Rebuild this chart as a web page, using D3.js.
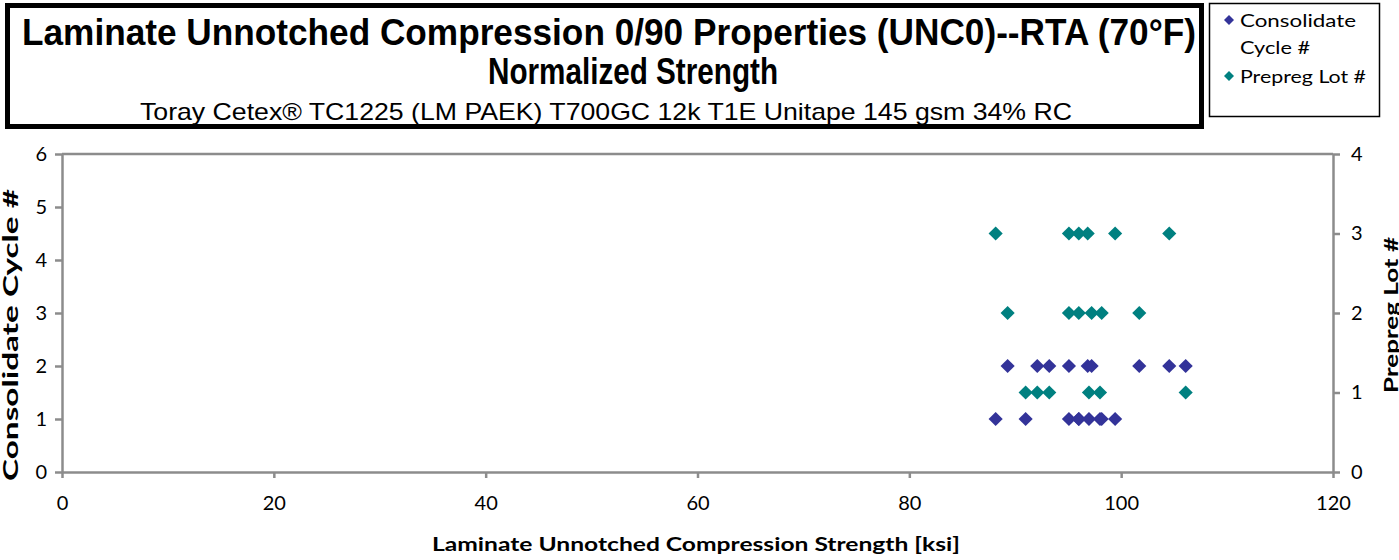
<!DOCTYPE html>
<html>
<head>
<meta charset="utf-8">
<script src="https://cdn.jsdelivr.net/npm/d3@7"></script>
<style>
html,body{margin:0;padding:0;background:#fff;}
svg{display:block;}
</style>
</head>
<body>
<svg id="chart" width="1399" height="560"></svg>
<script>
// ---- data ----
const cycleStrength = [88.15, 90.98, 95.07, 96.0, 96.0, 96.96, 98.0, 98.16, 99.43,
                       89.28, 92.08, 93.21, 95.07, 96.84, 97.21, 101.71, 104.54, 106.09];
const cycleValues   = [1, 1, 1, 1, 1, 1, 1, 1, 1,
                       2, 2, 2, 2, 2, 2, 2, 2, 2];
const lotStrength   = [90.98, 92.08, 93.21, 96.96, 98.0, 106.09,
                       89.28, 95.07, 96.0, 97.21, 98.16, 101.71,
                       88.15, 95.07, 96.0, 96.84, 99.43, 104.54];
const lotValues     = [1, 1, 1, 1, 1, 1,
                       2, 2, 2, 2, 2, 2,
                       3, 3, 3, 3, 3, 3];
const xTicks = [0, 20, 40, 60, 80, 100, 120];
const yLeftTicks = [0, 1, 2, 3, 4, 5, 6];
const yRightTicks = [0, 1, 2, 3, 4];
const titleLines = ["Laminate Unnotched Compression 0/90 Properties (UNC0)--RTA (70°F)", "Normalized Strength"];
const subtitle = "Toray  Cetex® TC1225  (LM PAEK) T700GC  12k  T1E  Unitape  145  gsm  34%  RC";
const legendLabels = [["Consolidate", "Cycle #"], ["Prepreg Lot #"]];
const xTitle = "Laminate Unnotched  Compression  Strength [ksi]";
const yLeftTitle = "Consolidate  Cycle #";
const yRightTitle = "Prepreg Lot #";
const colors = {cycle: "#333399", lot: "#008080"};

// ---- layout ----
const svg = d3.select("#chart");
const plot = {left: 62, right: 1333, top: 154, bottom: 472};
const axisColor = "#8c8c8c";
const tickFont = "Lato, 'Open Sans', sans-serif";

const x = d3.scaleLinear().domain([0, 120]).range([plot.left, plot.right]);
const yL = d3.scaleLinear().domain([0, 6]).range([plot.bottom, plot.top]);
const yR = d3.scaleLinear().domain([0, 4]).range([plot.bottom, plot.top]);

// plot border (top line)
svg.append("line").attr("x1", plot.left).attr("x2", plot.right)
  .attr("y1", plot.top).attr("y2", plot.top)
  .attr("stroke", axisColor).attr("stroke-width", 2.5);

function styleAxis(g) {
  g.select(".domain").attr("stroke", axisColor).attr("stroke-width", 2.5);
  g.selectAll(".tick line").attr("stroke", axisColor).attr("stroke-width", 2.5);
  g.selectAll(".tick text").attr("fill", "#000").attr("font-family", tickFont).attr("font-size", 20);
}
const fmt = d3.format("d");

const gx = svg.append("g").attr("transform", `translate(0,${plot.bottom})`)
  .call(d3.axisBottom(x).tickValues(xTicks).tickFormat(fmt).tickSize(6).tickSizeOuter(0).tickPadding(18));
styleAxis(gx);

const gl = svg.append("g").attr("transform", `translate(${plot.left},0)`)
  .call(d3.axisLeft(yL).tickValues(yLeftTicks).tickFormat(fmt).tickSize(7).tickSizeOuter(0).tickPadding(8));
styleAxis(gl);

const gr = svg.append("g").attr("transform", `translate(${plot.right},0)`)
  .call(d3.axisRight(yR).tickValues(yRightTicks).tickFormat(fmt).tickSize(7).tickSizeOuter(0).tickPadding(11));
styleAxis(gr);

// markers
const diamond = d3.symbol().type(d3.symbolSquare).size(100);
svg.append("g").selectAll("path").data(lotStrength.map((v, i) => [v, lotValues[i]]))
  .join("path").attr("d", diamond)
  .attr("transform", d => `translate(${x(d[0])},${yR(d[1])}) rotate(45)`)
  .attr("fill", colors.lot);
svg.append("g").selectAll("path").data(cycleStrength.map((v, i) => [v, cycleValues[i]]))
  .join("path").attr("d", diamond)
  .attr("transform", d => `translate(${x(d[0])},${yL(d[1])}) rotate(45)`)
  .attr("fill", colors.cycle);

// axis titles
svg.append("text").attr("x", 696).attr("y", 551).attr("text-anchor", "middle")
  .attr("font-family", tickFont).attr("font-weight", "bold").attr("font-size", 19)
  .attr("textLength", 528).attr("lengthAdjust", "spacingAndGlyphs").text(xTitle);
svg.append("text").attr("transform", "translate(18,335) rotate(-90)").attr("text-anchor", "middle")
  .attr("font-family", tickFont).attr("font-weight", "bold").attr("font-size", 21)
  .attr("textLength", 292).attr("lengthAdjust", "spacingAndGlyphs").text(yLeftTitle);
svg.append("text").attr("transform", "translate(1398,315) rotate(-90)").attr("text-anchor", "middle")
  .attr("font-family", tickFont).attr("font-weight", "bold").attr("font-size", 19)
  .attr("textLength", 156).attr("lengthAdjust", "spacingAndGlyphs").text(yRightTitle);

// title box
svg.append("rect").attr("x", 7.5).attr("y", 5.5).attr("width", 1194).attr("height", 121)
  .attr("fill", "#fff").attr("stroke", "#000").attr("stroke-width", 5);
const titleFont = "'Liberation Sans Narrow', 'Liberation Sans', Arial, sans-serif";
svg.append("text").attr("x", 609).attr("y", 45).attr("text-anchor", "middle")
  .attr("font-family", titleFont).attr("font-weight", "bold").attr("font-size", 36)
  .attr("textLength", 1174).attr("lengthAdjust", "spacingAndGlyphs").text(titleLines[0]);
svg.append("text").attr("x", 633).attr("y", 84).attr("text-anchor", "middle")
  .attr("font-family", titleFont).attr("font-weight", "bold").attr("font-size", 36)
  .attr("textLength", 290).attr("lengthAdjust", "spacingAndGlyphs").text(titleLines[1]);
svg.append("text").attr("x", 606).attr("y", 120).attr("text-anchor", "middle")
  .attr("font-family", titleFont).attr("font-size", 24)
  .attr("textLength", 932).attr("lengthAdjust", "spacingAndGlyphs").text(subtitle);

// legend box
svg.append("rect").attr("x", 1209.5).attr("y", 3.5).attr("width", 170).attr("height", 113)
  .attr("fill", "#fff").attr("stroke", "#000").attr("stroke-width", 1.5);
const legDiamond = d3.symbol().type(d3.symbolSquare).size(50);
const legItems = [{c: colors.cycle, y: 20, lines: legendLabels[0]}, {c: colors.lot, y: 76, lines: legendLabels[1]}];
const legendWidths = [[116, 70], [126]];
legItems.forEach((it, i) => {
  svg.append("path").attr("d", legDiamond)
    .attr("transform", `translate(1229,${it.y}) rotate(45)`).attr("fill", it.c);
  it.lines.forEach((t, j) => {
    svg.append("text").attr("x", 1240).attr("y", it.y + 7 + j * 27)
      .attr("font-family", tickFont).attr("font-size", 18)
      .attr("textLength", legendWidths[i][j]).attr("lengthAdjust", "spacingAndGlyphs").text(t);
  });
});
</script>
</body>
</html>
